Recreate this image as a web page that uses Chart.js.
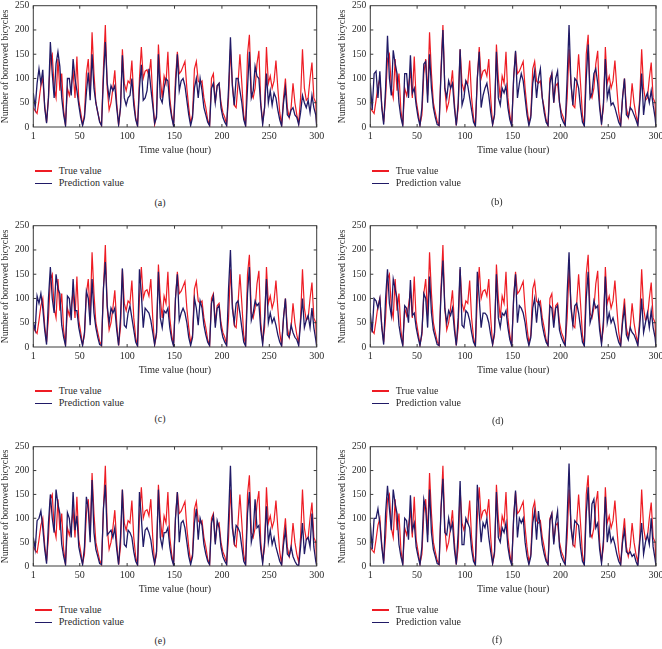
<!DOCTYPE html>
<html lang="en">
<head>
<meta charset="UTF-8" />
<title>True vs prediction, borrowed bicycles</title>
<script src="https://cdn.jsdelivr.net/npm/chart.js"></script>
<style>
  html, body { margin: 0; padding: 0; background: #fff; }
  body { width: 662px; height: 649px; position: relative; overflow: hidden; font-family: "Liberation Serif", "DejaVu Serif", serif; color: #2a2a2a; }
  canvas { position: absolute; }
  .leg-line { position: absolute; height: 1.3px; width: 17px; }
  .leg-text, .caption { position: absolute; font-size: 10px; line-height: 12px; white-space: nowrap; }
</style>
</head>
<body>
<script>
// hour grid (sampled every 2 hours)
const hours = [1,3,5,7,9,11,13,15,17,19, 21,23,25,27,29,31,33,35,37,39, 41,43,45,47,49,51,53,55,57,59,
  61,63,65,67,69,71,73,75,77,79, 81,83,85,87,89,91,93,95,97,99, 101,103,105,107,109,111,113,115,117,119,
  121,123,125,127,129,131,133,135,137,139, 141,143,145,147,149,151,153,155,157,159, 161,163,165,167,169,171,173,175,177,179,
  181,183,185,187,189,191,193,195,197,199, 201,203,205,207,209,211,213,215,217,219, 221,223,225,227,229,231,233,235,237,239,
  241,243,245,247,249,251,253,255,257,259, 261,263,265,267,269,271,273,275,277,279, 281,283,285,287,289,291,293,295,297,299, 300];

const xTicks = [1, 50, 100, 150, 200, 250, 300];

const trueVals = [40,33,28,55,85,100,45,10,60,140, 150,80,60,140,75,110,35,3,80,65, 85,115,60,145,55,30,5,25,110,140,
  65,195,110,50,30,12,3,120,210,80, 35,50,80,117,50,3,40,160,90,75, 95,90,137,60,20,2,100,165,100,115,
  118,105,140,60,5,25,170,100,60,105, 90,155,60,25,3,100,155,110,115,125, 135,80,40,8,25,120,135,95,90,95,
  60,40,15,3,100,110,50,85,90,50, 30,20,5,60,160,90,45,40,90,150, 90,25,3,150,190,70,60,80,130,157,
  50,10,40,165,90,105,80,95,137,80, 30,3,60,100,40,20,40,90,50,25, 8,60,160,80,55,60,100,133,60,50, 3];

const predA = [70,40,90,120,90,118,40,8,60,175, 110,60,130,155,125,60,25,3,100,100, 65,140,100,75,45,20,3,20,70,112,
  55,150,80,50,30,10,3,100,175,90, 60,85,75,85,40,5,40,148,60,45, 60,65,100,45,15,2,80,128,55,60,
  75,120,80,45,8,20,150,60,50,80, 100,95,45,20,2,80,150,75,95,100, 85,55,25,3,20,80,100,60,100,75,
  40,25,10,3,80,90,50,85,90,40, 20,10,3,80,185,85,45,100,100,75, 50,15,2,80,155,60,75,125,105,100,
  45,5,40,110,50,75,45,70,60,35, 15,2,50,80,25,20,35,40,25,20, 5,30,65,50,40,55,30,65,40,25, 0];

const predB = [90,35,110,115,60,115,40,5,80,188, 100,65,158,130,110,50,20,3,110,110, 60,148,70,80,45,20,3,40,130,135,
  50,150,80,40,20,5,3,110,200,80, 60,95,80,90,40,3,50,160,45,60, 95,85,60,35,10,2,100,155,40,65,
  80,90,65,30,5,25,155,60,45,80, 70,85,40,15,2,100,157,60,90,110, 95,60,25,3,20,90,115,60,100,120,
  60,30,10,3,90,110,50,100,115,50, 20,10,3,100,210,90,45,100,95,80, 40,10,2,100,170,60,70,110,120,90,
  40,5,50,140,60,80,45,50,40,25, 10,2,60,100,25,20,40,35,25,15, 3,50,110,25,60,70,50,75,45,20, 0];

const predC = [50,35,105,90,110,80,35,5,100,165, 100,70,150,120,110,45,20,3,105,100, 55,140,75,75,40,20,3,30,115,100,
  45,140,70,40,20,5,3,120,175,85, 50,80,70,80,35,3,60,162,45,40, 70,85,60,35,10,2,160,110,40,80,
  75,70,55,30,5,30,155,60,40,75, 70,80,40,15,2,100,150,55,70,80, 70,50,20,3,20,100,80,45,95,80,
  45,25,10,3,90,105,40,80,85,40, 20,10,3,120,200,80,50,90,95,70, 40,10,2,110,165,55,70,95,85,90,
  35,5,60,140,50,70,50,60,45,25, 10,2,60,100,25,20,45,30,20,15, 3,50,100,40,55,65,40,80,40,15, 0];

const predD = [70,30,100,95,80,100,40,5,100,160, 90,65,140,120,100,45,20,3,85,80, 50,138,65,70,40,20,3,30,110,100,
  40,145,70,35,20,5,3,110,178,80, 50,75,65,80,35,3,60,165,45,40, 75,70,55,30,10,2,155,100,40,70,
  70,65,50,25,5,30,150,60,40,70, 65,75,40,15,2,100,150,50,85,80, 70,50,20,3,20,80,100,50,95,80,
  45,25,10,3,85,80,40,80,85,35, 20,10,3,110,195,80,45,85,90,70, 40,10,2,100,155,50,65,95,80,85,
  35,5,55,145,50,70,50,60,45,25, 10,2,50,80,25,15,40,30,25,15, 3,45,100,30,50,70,40,75,40,20, 0];

const predE = [60,35,95,100,115,80,35,5,90,150, 100,70,160,130,110,45,20,3,112,100, 60,155,75,105,40,20,3,40,145,120,
  50,180,70,35,20,5,3,120,170,65, 70,75,60,80,35,3,60,160,45,40, 75,70,60,30,10,2,155,100,40,75,
  80,70,55,25,5,30,160,60,40,70, 70,80,40,15,2,100,155,50,90,95, 80,50,20,3,20,90,120,55,100,85,
  45,25,10,3,90,105,45,95,80,40, 20,10,3,100,210,80,50,85,80,70, 40,10,2,110,155,50,70,140,80,85,
  35,5,50,125,50,75,45,60,40,25, 10,2,45,75,25,20,40,20,10,3, 0,40,90,25,55,60,40,110,40,10, 0];

const predF = [90,35,100,100,120,90,40,5,110,168, 120,75,160,130,110,45,20,3,100,95, 55,148,75,90,40,20,3,40,140,120,
  50,160,70,35,20,5,3,120,183,70, 65,100,75,90,35,3,70,178,45,45, 100,90,80,35,10,2,170,110,50,90,
  80,100,60,30,5,30,155,60,50,80, 70,90,40,15,2,100,158,60,100,90, 100,50,20,3,20,90,115,55,115,80,
  45,25,10,3,95,110,45,90,115,40, 20,10,3,100,215,80,50,95,90,85, 40,10,2,110,165,60,130,140,80,90,
  35,5,55,145,50,80,50,60,45,25, 10,2,50,75,30,25,30,20,25,10, 0,50,90,25,50,65,45,100,40,15, 0];

const RED = '#ee1c24';
const NAVY = '#201a66';
const FONT = '"Liberation Serif", "DejaVu Serif", serif';

// layout of the six panels
const panels = [
  { tag: '(a)', pred: predA, left: 0,   plotTop: 4,   plotH: 123, yW: 33.3, titlePad: 0,   capX: 160, capY: 203 },
  { tag: '(b)', pred: predB, left: 331, plotTop: 4,   plotH: 123, yW: 39.3, titlePad: 5.5, capX: 497, capY: 202 },
  { tag: '(c)', pred: predC, left: 0,   plotTop: 224, plotH: 123, yW: 33.3, titlePad: 0,   capX: 160, capY: 419 },
  { tag: '(d)', pred: predD, left: 331, plotTop: 224, plotH: 123, yW: 39.3, titlePad: 5.5, capX: 498, capY: 421 },
  { tag: '(e)', pred: predE, left: 0,   plotTop: 445, plotH: 121, yW: 33.3, titlePad: 0,   capX: 160, capY: 641 },
  { tag: '(f)', pred: predF, left: 331, plotTop: 445, plotH: 121, yW: 39.3, titlePad: 5.5, capX: 497, capY: 640 }
];

const framePlugin = {
  id: 'frame',
  afterDatasetsDraw(chart) {
    const { ctx, chartArea: a, scales } = chart;
    ctx.save();
    ctx.strokeStyle = '#3a3a3a';
    ctx.lineWidth = 1;
    ctx.strokeRect(a.left, a.top, a.right - a.left, a.bottom - a.top);
    ctx.beginPath();
    xTicks.forEach(v => {
      const px = scales.x.getPixelForValue(v);
      ctx.moveTo(px, a.bottom); ctx.lineTo(px, a.bottom - 3);
      ctx.moveTo(px, a.top); ctx.lineTo(px, a.top + 3);
    });
    [50, 100, 150, 200].forEach(v => {
      const py = scales.y.getPixelForValue(v);
      ctx.moveTo(a.left, py); ctx.lineTo(a.left + 3, py);
      ctx.moveTo(a.right, py); ctx.lineTo(a.right - 3, py);
    });
    ctx.stroke();
    ctx.restore();
  }
};

function el(cls, css, text) {
  const d = document.createElement('div');
  d.className = cls;
  Object.assign(d.style, css);
  if (text) d.textContent = text;
  document.body.appendChild(d);
  return d;
}

panels.forEach(p => {
  const cw = 345;
  const ch = 8 + p.plotH + 29;
  const canvas = document.createElement('canvas');
  canvas.width = cw;
  canvas.height = ch;
  canvas.style.left = p.left + 'px';
  canvas.style.top = (p.plotTop - 8) + 'px';
  document.body.appendChild(canvas);

  const plotRight = p.left === 0 ? 316.7 : 325;

  new Chart(canvas, {
    type: 'line',
    data: {
      datasets: [
        { label: 'Prediction value', data: hours.map((h, i) => ({ x: h, y: p.pred[i] })),
          borderColor: NAVY, borderWidth: 1.3, pointRadius: 0, tension: 0 },
        { label: 'True value', data: hours.map((h, i) => ({ x: h, y: trueVals[i] })),
          borderColor: RED, borderWidth: 1.2, pointRadius: 0, tension: 0 }
      ]
    },
    options: {
      responsive: false,
      animation: false,
      events: [],
      layout: { padding: { top: 8, bottom: 0, left: 0, right: cw - plotRight } },
      plugins: { legend: { display: false }, tooltip: { enabled: false } },
      scales: {
        x: {
          type: 'linear', min: 1, max: 300,
          grid: { display: false, drawTicks: false },
          border: { display: false },
          afterBuildTicks: axis => { axis.ticks = xTicks.map(v => ({ value: v })); },
          afterFit: axis => { axis.height = 29; },
          ticks: { padding: 3, maxRotation: 0, autoSkip: false, color: '#2a2a2a', font: { family: FONT, size: 10 } },
          title: { display: true, text: 'Time value (hour)', color: '#2a2a2a', padding: { top: 0, bottom: 0 },
                   font: { family: FONT, size: 10 } }
        },
        y: {
          min: 0, max: 250,
          grid: { display: false, drawTicks: false },
          border: { display: false },
          afterFit: axis => { axis.width = p.yW; },
          ticks: { stepSize: 50, padding: 4, color: '#2a2a2a', font: { family: FONT, size: 9.5 } },
          title: { display: true, text: 'Number of borrowed bicycles', color: '#2a2a2a',
                   padding: { top: p.titlePad, bottom: 0 }, font: { family: FONT, size: 9.5 } }
        }
      }
    },
    plugins: [framePlugin]
  });

  // legend + caption
  const plotLeft = p.left + p.yW;
  const plotBottom = p.plotTop + p.plotH;
  const ly1 = plotBottom + 44, ly2 = plotBottom + 56.5;
  el('leg-line', { left: (plotLeft + 1.5) + 'px', top: (ly1 - 0.6) + 'px', background: RED });
  el('leg-line', { left: (plotLeft + 1.5) + 'px', top: (ly2 - 0.6) + 'px', background: NAVY });
  el('leg-text', { left: (plotLeft + 25.5) + 'px', top: (ly1 - 6.5) + 'px' }, 'True value');
  el('leg-text', { left: (plotLeft + 25.5) + 'px', top: (ly2 - 6.5) + 'px' }, 'Prediction value');
  const cap = el('caption', { top: (p.capY - 6.5) + 'px' }, p.tag);
  cap.style.left = (p.capX - cap.offsetWidth / 2) + 'px';
});
</script>
</body>
</html>
